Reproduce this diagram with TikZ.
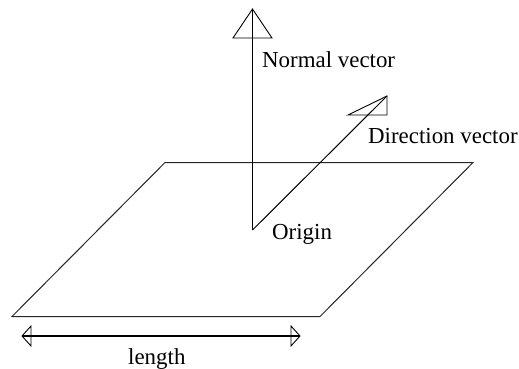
\documentclass[tikz,border=0pt]{standalone}
\usepackage{fontspec}
\setmainfont{Liberation Serif}
\usepackage{tikz}
\usetikzlibrary{positioning,calc}
\tikzset{
  vecline/.style={draw=black, line width=1pt},
  headline/.style={draw=black, line width=0.9pt, line join=miter},
  planeline/.style={draw=black!85, line width=1pt},
  caption/.style={anchor=base west, inner sep=0pt, font=\fontsize{22.9pt}{26pt}\selectfont}
}
\begin{document}
\begin{tikzpicture}[x=1pt, y=-1pt]
      \useasboundingbox (0,0) rectangle (519,368);
      % plane
      \coordinate (pa) at (165,162.5);
      \coordinate (pb) at (473,162.5);
      \coordinate (pc) at (320,316.5);
      \coordinate (pd) at (12,316.5);
      \draw[planeline] (pa) -- (pb) -- (pc) -- (pd) -- cycle;
      % vectors
      \coordinate (origin) at (252.5,230);
      \coordinate (normaltip) at (252.5,9);
      \coordinate (directiontip) at (387,96);
      \draw[vecline] (origin) -- (normaltip);
      \draw[vecline] (origin) -- (directiontip);
      \draw[headline] (normaltip) -- ++(-19.5,29) -- ++(39,0) -- cycle;
      \draw[headline] (directiontip) -- ++(-39,19) -- ++(39,0) -- cycle;
      % length
      \coordinate (lengthl) at (22,336);
      \coordinate (lengthr) at (300,336);
      \draw[vecline, line width=1.7pt] (lengthl) -- (lengthr);
      \draw[headline] (lengthl) -- ++(9,-10) -- ++(0,20) -- cycle;
      \draw[headline] (lengthr) -- ++(-9,-10) -- ++(0,20) -- cycle;
      % labels
      \node[caption] (normallabel) at (262,67) {Normal vector};
      \node[caption] (directionlabel) at (368,143) {Direction vector};
      \node[caption] (originlabel) at (272,239) {Origin};
      \node[caption] (lengthlabel) at (128,364) {length};
    \end{tikzpicture}
\end{document}
